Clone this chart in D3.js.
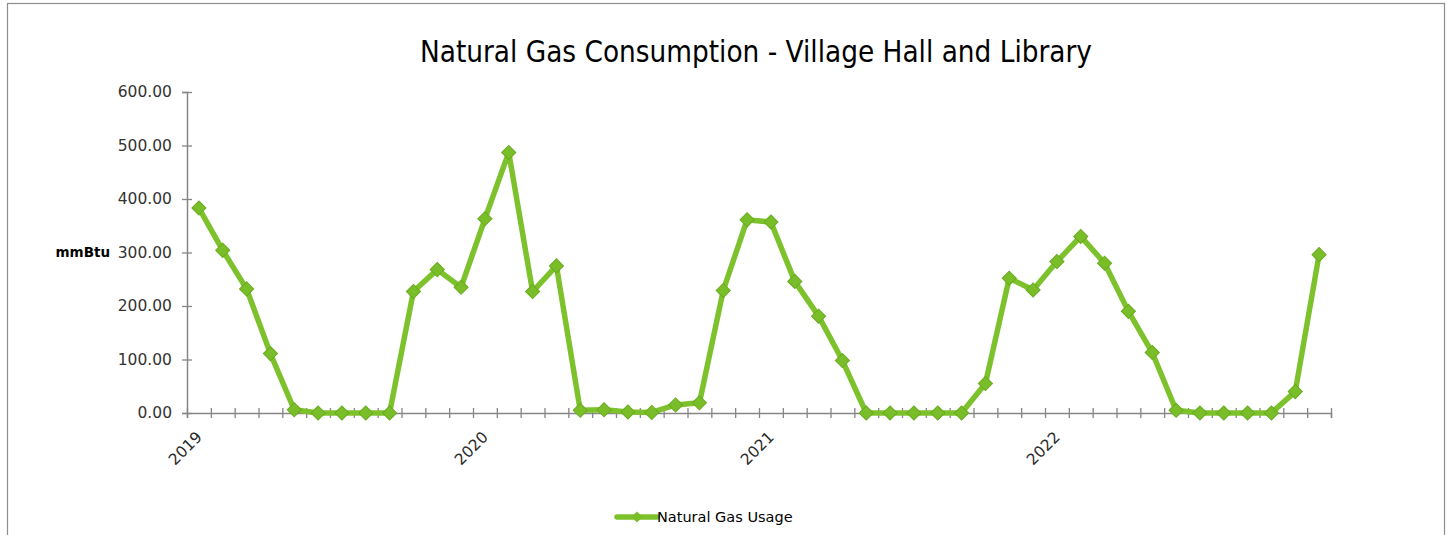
<!DOCTYPE html>
<html>
  <head>
    <meta charset="utf-8">
    <title>Natural Gas Consumption - Village Hall and Library</title>
    <script src="https://d3js.org/d3.v7.min.js"></script>
    <style>
      html, body { margin: 0; padding: 0; background: #ffffff; }
      svg { display: block; }
    </style>
  </head>
  <body>
    <div class="chart-area"></div>

    <script>
        // months on the category axis
        var years = ["2019", "2020", "2021", "2022"];
        var monthNames = ["Jan", "Feb", "Mar", "Apr", "May", "Jun", "Jul", "Aug", "Sep", "Oct", "Nov", "Dec"];
        var categories = [];
        years.forEach(function(yr) {
            monthNames.forEach(function(m) { categories.push(m + " " + yr); });
        });

        // monthly usage, mmBtu
        var usage2019 = [383, 304, 232, 111, 6, 0, 0, 0, 0, 227, 268, 235];
        var usage2020 = [363, 487, 227, 275, 5, 6, 2, 1, 15, 19, 229, 361];
        var usage2021 = [357, 246, 181, 98, 0, 0, 0, 0, 0, 55, 252, 230];
        var usage2022 = [283, 330, 280, 190, 113, 5, 0, 0, 0, 0, 40, 296];
        var usage = usage2019.concat(usage2020, usage2021, usage2022);

        // tick labels
        var yTicks = [0, 100, 200, 300, 400, 500, 600];
        var yearLabels = ["2019", "2020", "2021", "2022"];
        var yearFirstMonth = ["Jan 2019", "Jan 2020", "Jan 2021", "Jan 2022"];

        var seriesName = "Natural Gas Usage";
        var titleText = "Natural Gas Consumption - Village Hall and Library";

        // plot box (px)
        var W = 1449, H = 535;
        var plot = {x0: 187, x1: 1331, y0: 92, y1: 413};
        var green = "#7dc22c";
        var axisGray = "#868686";

        var svg = d3.select(".chart-area")
            .append("svg")
            .attr("width", W)
            .attr("height", H);

        // chart frame
        svg.append("rect")
            .attr("x", 7.5).attr("y", 3.5)
            .attr("width", 1437).attr("height", 560)
            .attr("fill", "#ffffff")
            .attr("stroke", "#8e8e8e")
            .attr("stroke-width", 1.2);

        // title
        svg.append("text")
            .attr("x", 756).attr("y", 62)
            .attr("text-anchor", "middle")
            .attr("textLength", 672)
            .attr("lengthAdjust", "spacingAndGlyphs")
            .style("font-family", "'Liberation Sans Narrow', 'DejaVu Sans Condensed', 'Liberation Sans', sans-serif")
            .style("font-size", "31px")
            .attr("fill", "#000000")
            .text(titleText);

        // scales
        var x = d3.scaleBand()
            .domain(categories)
            .range([plot.x0, plot.x1])
            .paddingInner(0).paddingOuter(0);
        var xTick = d3.scaleLinear()
            .domain([0, categories.length])
            .range([plot.x0, plot.x1]);
        var y = d3.scaleLinear()
            .domain([0, 600])
            .range([plot.y1, plot.y0]);

        var cx = function(c) { return x(c) + x.bandwidth() / 2; };

        // y axis
        var gy = svg.append("g")
            .attr("transform", "translate(" + plot.x0 + ",0)")
            .call(d3.axisLeft(y).tickValues(yTicks).tickFormat(d3.format(".2f")).tickSize(5).tickPadding(10));
        gy.select(".domain").attr("stroke", axisGray).attr("stroke-width", 1.5);
        gy.selectAll(".tick line").attr("stroke", axisGray).attr("stroke-width", 1.3).attr("x1", -5).attr("x2", 5);
        gy.selectAll(".tick text")
            .attr("fill", "#333333")
            .style("font-family", "'DejaVu Sans', sans-serif")
            .style("font-size", "15.5px");

        svg.append("text")
            .attr("x", 110).attr("y", y(300))
            .attr("dy", "0.35em")
            .attr("text-anchor", "end")
            .style("font-family", "'DejaVu Sans', sans-serif")
            .style("font-weight", "bold")
            .style("font-size", "13.5px")
            .attr("fill", "#000000")
            .text("mmBtu");

        // x axis, tick marks between months
        var gx = svg.append("g")
            .attr("transform", "translate(0," + plot.y1 + ")")
            .call(d3.axisBottom(xTick).tickValues(d3.range(categories.length + 1)).tickFormat("").tickSizeOuter(0).tickSize(5));
        gx.select(".domain").attr("stroke", axisGray).attr("stroke-width", 1.5);
        gx.selectAll(".tick line").attr("stroke", axisGray).attr("stroke-width", 1.3).attr("y1", -5).attr("y2", 5);

        // year labels
        svg.append("g")
            .selectAll("text")
            .data(yearLabels)
            .enter().append("text")
                .attr("transform", function(d, i) {
                    return "translate(" + (cx(yearFirstMonth[i]) + 4) + "," + (plot.y1 + 25) + ") rotate(-45)";
                })
                .attr("text-anchor", "end")
                .style("font-family", "'DejaVu Sans', sans-serif")
                .style("font-size", "15.5px")
                .attr("fill", "#2a2a2a")
                .text(function(d) { return d; });

        // line + diamond markers
        var line = d3.line()
            .x(function(d, i) { return cx(categories[i]); })
            .y(function(d) { return y(d); });

        svg.append("path")
            .datum(usage)
            .attr("fill", "none")
            .attr("stroke", green)
            .attr("stroke-width", 5.5)
            .attr("stroke-linejoin", "round")
            .attr("d", line);

        // square turned 45deg gives Excel's diamond
        var diamond = d3.symbol().type(d3.symbolSquare).size(100);

        svg.append("g")
            .selectAll("path")
            .data(usage)
            .enter().append("path")
                .attr("transform", function(d, i) {
                    return "translate(" + cx(categories[i]) + "," + y(d) + ") rotate(45)";
                })
                .attr("d", diamond)
                .attr("fill", "#79bd28")
                .attr("stroke", "#6aab20")
                .attr("stroke-width", 1);

        // legend
        var lg = svg.append("g").attr("transform", "translate(617,517)");
        lg.append("line")
            .attr("x1", 0).attr("x2", 40)
            .attr("y1", 0).attr("y2", 0)
            .attr("stroke", green)
            .attr("stroke-width", 5.5)
            .attr("stroke-linecap", "round");
        lg.append("path")
            .attr("transform", "translate(20,0) rotate(45)")
            .attr("d", d3.symbol().type(d3.symbolSquare).size(60))
            .attr("fill", "#79bd28");
        lg.append("text")
            .attr("x", 40).attr("y", 0)
            .attr("dy", "0.35em")
            .style("font-family", "'DejaVu Sans', sans-serif")
            .style("font-size", "14.5px")
            .attr("fill", "#000000")
            .text(seriesName);
    </script>
  </body>
</html>
